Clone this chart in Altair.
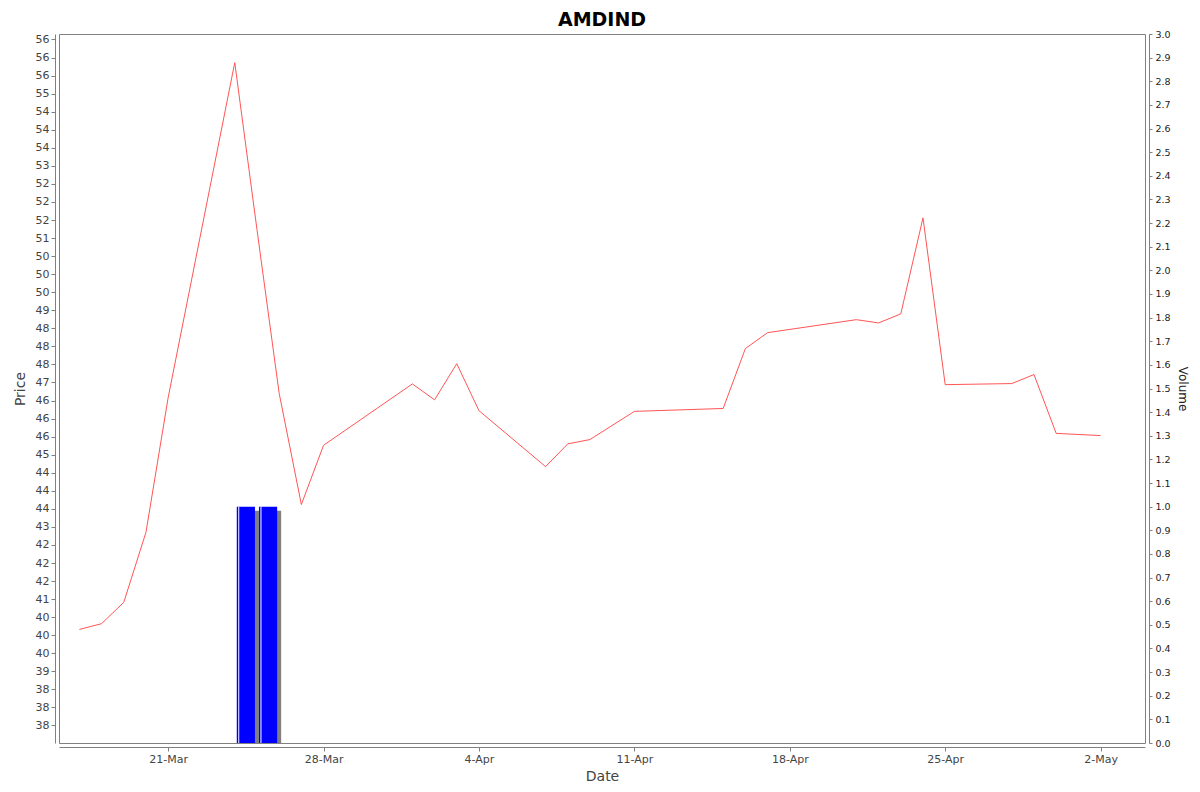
import altair as alt
import pandas as pd

# ---- data ----
dates = [
    "2025-03-17", "2025-03-18", "2025-03-19", "2025-03-20", "2025-03-21",
    "2025-03-24", "2025-03-25", "2025-03-26", "2025-03-27", "2025-03-28",
    "2025-04-01", "2025-04-02", "2025-04-03", "2025-04-04",
    "2025-04-07", "2025-04-08", "2025-04-09", "2025-04-11",
    "2025-04-15", "2025-04-16", "2025-04-17",
    "2025-04-21", "2025-04-22", "2025-04-23", "2025-04-24", "2025-04-25",
    "2025-04-28", "2025-04-29", "2025-04-30", "2025-05-02",
]
prices = [
    40.16, 40.32, 40.91, 42.85, 46.58,
    55.86, 51.24, 46.70, 43.62, 45.26,
    46.96, 46.52, 47.52, 46.22,
    44.67, 45.30, 45.42, 46.20,
    46.28, 47.94, 48.38,
    48.74, 48.65, 48.90, 51.56, 46.94,
    46.97, 47.22, 45.59, 45.53,
]
vol_dates = ["2025-03-24", "2025-03-25"]
volumes = [1.0, 1.0]

price_ticks = [37.5, 38.0, 38.5, 39.0, 39.5, 40.0, 40.5, 41.0, 41.5, 42.0,
               42.5, 43.0, 43.5, 44.0, 44.5, 45.0, 45.5, 46.0, 46.5, 47.0,
               47.5, 48.0, 48.5, 49.0, 49.5, 50.0, 50.5, 51.0, 51.5, 52.0,
               52.5, 53.0, 53.5, 54.0, 54.5, 55.0, 55.5, 56.0, 56.5]
volume_ticks = [0.0, 0.1, 0.2, 0.3, 0.4, 0.5, 0.6, 0.7, 0.8, 0.9, 1.0,
                1.1, 1.2, 1.3, 1.4, 1.5, 1.6, 1.7, 1.8, 1.9, 2.0,
                2.1, 2.2, 2.3, 2.4, 2.5, 2.6, 2.7, 2.8, 2.9, 3.0]
x_tick_days = [(3, 21), (3, 28), (4, 4), (4, 11), (4, 18), (4, 25), (5, 2)]

price_df = pd.DataFrame({"date": dates, "price": prices})
vol_end = (pd.to_datetime(pd.Series(vol_dates)) + pd.Timedelta(days=1)).dt.strftime("%Y-%m-%d")
vol_df = pd.DataFrame({"date": vol_dates, "date_end": list(vol_end), "volume": volumes})

FONT = "DejaVu Sans"
AX_GRAY = "#808080"

x_scale = alt.Scale(
    type="utc",
    domain=[alt.DateTime(year=2025, month=3, date=16, hours=2, utc=True),
            alt.DateTime(year=2025, month=5, date=4, utc=True)],
)
x_axis = alt.Axis(
    orient="bottom", offset=4,
    values=[alt.DateTime(year=2025, month=m, date=d, utc=True) for m, d in x_tick_days],
    labelExpr="utcFormat(datum.value, '%-d-%b')",
    title="Date", titleFontSize=14, titleColor="#444444", titlePadding=5,
    labelFontSize=11, labelColor="#444444", labelPadding=2, tickSize=4,
    labelFlush=False, labelOverlap=False, grid=False,
)
vol_scale = alt.Scale(domain=[0, 3], nice=False, zero=True)
vol_axis = alt.Axis(
    orient="right", offset=4, values=volume_ticks, format=".1f",
    title="Volume", titleFontSize=12, titleColor="#222222", titlePadding=5,
    labelFontSize=9.5, labelColor="#222222", labelPadding=3, tickSize=3,
    labelOverlap=False, grid=False,
)
price_scale = alt.Scale(domain=[37.015, 56.652], nice=False, zero=False)
price_axis = alt.Axis(
    orient="left", offset=4, values=price_ticks,
    labelExpr="(datum.value - floor(datum.value)) == 0.5 ? "
              "(floor(datum.value) % 2 == 0 ? floor(datum.value) : ceil(datum.value)) "
              ": round(datum.value)",
    title="Price", titleFontSize=14, titleColor="#444444", titlePadding=8,
    labelFontSize=11, labelColor="#444444", labelPadding=2, tickSize=4,
    labelOverlap=False, grid=False,
)

vol_base = alt.Chart(vol_df)

shadow = vol_base.mark_bar(color="#808080", xOffset=6, x2Offset=2, yOffset=4, clip=True).encode(
    x=alt.X("date:T", scale=x_scale, axis=x_axis),
    x2="date_end:T",
    y=alt.Y("volume:Q", scale=vol_scale, axis=vol_axis),
    y2=alt.datum(0),
)
bars = vol_base.mark_bar(color="#0000ff", xOffset=2, x2Offset=-2, clip=True).encode(
    x=alt.X("date:T", scale=x_scale, axis=x_axis),
    x2="date_end:T",
    y=alt.Y("volume:Q", scale=vol_scale, axis=vol_axis),
    y2=alt.datum(0),
)
highlight = vol_base.mark_rule(color="#ffffff", strokeWidth=1, xOffset=4, clip=True).encode(
    x=alt.X("date:T", scale=x_scale, axis=x_axis),
    y=alt.Y("volume:Q", scale=vol_scale, axis=vol_axis),
    y2=alt.datum(0),
)
vol_layer = alt.layer(shadow, bars, highlight)

line = alt.Chart(price_df).mark_line(color="#ff5555", strokeWidth=1, clip=True).encode(
    x=alt.X("date:T", scale=x_scale, axis=x_axis),
    y=alt.Y("price:Q", scale=price_scale, axis=price_axis),
)

chart = (
    alt.layer(vol_layer, line)
    .resolve_scale(y="independent")
    .properties(
        width=1086, height=709,
        autosize=alt.AutoSizeParams(type="none"),
        padding={"left": 51, "top": 26, "right": 47, "bottom": 40},
        background="white",
        title=alt.TitleParams(
            "AMDIND", font=FONT, fontSize=19, fontWeight="bold", color="#000000",
            anchor="middle", frame="group", orient="top", offset=2, dy=3,
        ),
    )
    .configure_view(stroke=AX_GRAY, strokeWidth=1)
    .configure_axis(
        labelFont=FONT, titleFont=FONT, titleFontWeight="normal",
        domainColor=AX_GRAY, tickColor=AX_GRAY, grid=False,
    )
)

chart.save("out.html", embed_options={"renderer": "svg", "actions": False})
